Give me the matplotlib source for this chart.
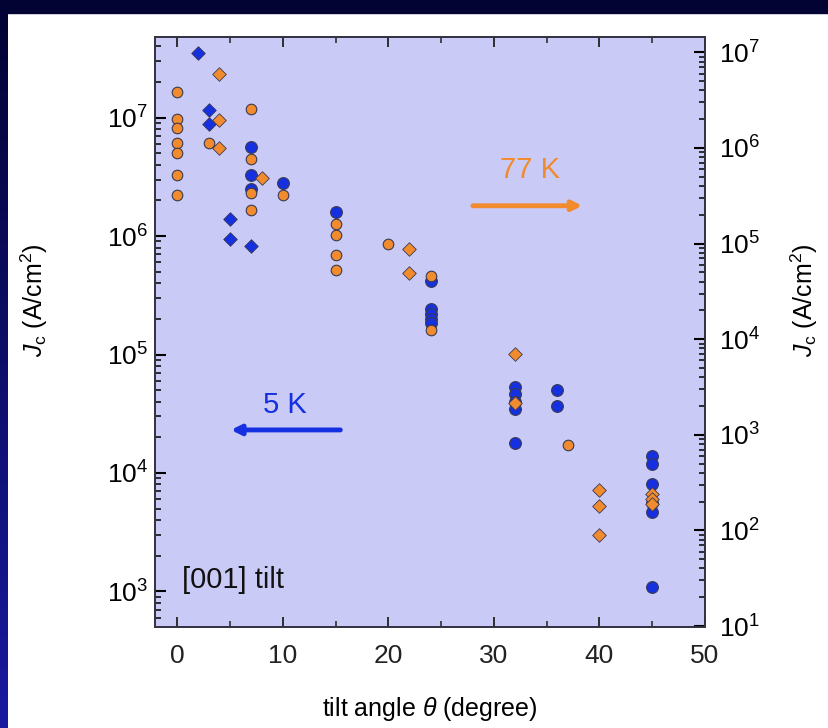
import matplotlib
matplotlib.use("Agg")
import matplotlib.pyplot as plt
import numpy as np
from matplotlib.patches import Rectangle
from matplotlib.ticker import LogLocator, NullFormatter, MultipleLocator

plt.rcParams['font.family'] = ['Liberation Sans', 'DejaVu Sans']
plt.rcParams['mathtext.fontset'] = 'custom'
plt.rcParams['mathtext.rm'] = 'Liberation Sans'
plt.rcParams['mathtext.it'] = 'Liberation Sans:italic'

# 5 K data (left axis)
blue_circ_x = [7, 7, 7, 10, 15, 24, 24, 24, 24, 24, 32, 32, 32, 32, 32, 36, 36, 45, 45, 45, 45, 45, 45]
blue_circ_y = [5.6e6, 3.3e6, 2.5e6, 2.8e6, 1.6e6, 4.2e5, 2.4e5, 2.2e5, 2.0e5, 1.85e5,
               5.3e4, 4.6e4, 4.0e4, 3.5e4, 1.8e4, 5.0e4, 3.7e4,
               1.4e4, 1.2e4, 8.0e3, 5.6e3, 4.7e3, 1.1e3]
blue_dia_x = [2, 3, 3, 5, 5, 7]
blue_dia_y = [3.5e7, 1.15e7, 8.9e6, 1.38e6, 9.4e5, 8.3e5]

# 77 K data (right axis)
orange_circ_x = [0, 0, 0, 0, 0, 0, 0, 3, 7, 7, 7, 7, 10, 15, 15, 15, 15, 20, 24, 24, 37]
orange_circ_y = [3.8e6, 2.0e6, 1.6e6, 1.13e6, 8.9e5, 5.2e5, 3.2e5, 1.12e6,
                 2.55e6, 7.6e5, 3.4e5, 2.26e5, 3.2e5,
                 1.62e5, 1.24e5, 7.5e4, 5.3e4, 9.9e4, 4.6e4, 1.25e4, 790]
orange_dia_x = [4, 4, 4, 8, 22, 22, 32, 32, 40, 40, 40, 45, 45, 45]
orange_dia_y = [6.0e6, 1.96e6, 9.9e5, 4.9e5, 8.8e4, 4.9e4, 7.0e3, 2.14e3, 263, 179, 89, 243, 215, 190]

blue = '#1530e0'
orange = '#f28a2e'
edge = '#3a3a50'

fig = plt.figure(figsize=(8.29, 7.28), dpi=100, facecolor='white')

# dark frame on top and left of the slide
fig.patches.append(Rectangle((0, 1 - 13 / 728), 1, 13 / 728, transform=fig.transFigure,
                             color='#020233', zorder=0))
rows = 728
strip = np.zeros((rows, 8, 3))
top_c = np.array([2, 2, 51]) / 255
bot_c = np.array([26, 26, 160]) / 255
t = np.linspace(0, 1, rows).reshape(-1, 1, 1)
strip[:] = top_c + (bot_c - top_c) * t
fig.figimage(strip, xo=0, yo=0, origin='upper', zorder=0)

ax = fig.add_axes([155 / 829, 101 / 728, 550 / 829, 590 / 728])
ax.set_facecolor('#cacaf6')
ax.set_yscale('log')
ax.set_xlim(-2.1, 50)
ax.set_ylim(10 ** 2.70, 10 ** 7.68)

ax.scatter(blue_circ_x, blue_circ_y, s=72, marker='o', color=blue, edgecolors=edge, linewidths=0.8, zorder=3)
ax.scatter(blue_dia_x, blue_dia_y, s=48, marker='D', color=blue, edgecolors=edge, linewidths=0.6, zorder=3)

ax2 = ax.twinx()
ax2.set_yscale('log')
ax2.set_ylim(10 ** 0.99, 10 ** 7.16)
ax2.scatter(orange_circ_x, orange_circ_y, s=58, marker='o', color=orange, edgecolors=edge, linewidths=0.8, zorder=3)
ax2.scatter(orange_dia_x, orange_dia_y, s=48, marker='D', color=orange, edgecolors=edge, linewidths=0.6, zorder=3)

for a in (ax, ax2):
    a.yaxis.set_major_locator(LogLocator(base=10, numticks=20))
    a.yaxis.set_minor_locator(LogLocator(base=10, subs=np.arange(2, 10), numticks=20))
    a.yaxis.set_minor_formatter(NullFormatter())
    for sp in a.spines.values():
        sp.set_linewidth(1.3)
        sp.set_color('#333344')

ax.xaxis.set_major_locator(MultipleLocator(10))
ax.xaxis.set_minor_locator(MultipleLocator(5))
ax.xaxis.offsetText.set_visible(False)
ax.tick_params(axis='x', which='both', direction='in', top=True, labelsize=19, pad=12, colors='#222222')
ax.tick_params(axis='x', which='major', length=7, width=1.3)
ax.tick_params(axis='x', which='minor', length=4, width=1.1)
ax.tick_params(axis='y', which='both', direction='in', right=False, labelsize=19, pad=5)
ax.tick_params(axis='y', which='major', length=8, width=1.5)
ax.tick_params(axis='y', which='minor', length=4, width=1.1)
ax2.tick_params(axis='y', which='both', direction='in', labelsize=19, pad=10)
ax2.tick_params(axis='y', which='major', length=8, width=1.5)
ax2.tick_params(axis='y', which='minor', length=4, width=1.1)

ax.set_xlabel(r'tilt angle $\theta$ (degree)', fontsize=18)
ax.xaxis.set_label_coords(0.5, -0.115)
ax.set_ylabel(r'$J_{\rm c}$ (A/cm$^2$)', fontsize=18)
ax.yaxis.set_label_coords(-0.19, 0.554)
ax2.set_ylabel(r'$J_{\rm c}$ (A/cm$^2$)', fontsize=18)
ax2.yaxis.set_label_coords(1.152, 0.554)

ax.text(0.236, 0.376, '5 K', transform=ax.transAxes, color=blue, fontsize=21, ha='center', va='center')
ax.annotate('', xy=(0.133, 0.334), xytext=(0.342, 0.334), xycoords='axes fraction',
            arrowprops=dict(arrowstyle='-|>', color=blue, lw=3.5, mutation_scale=14))
ax2.text(0.682, 0.775, '77 K', transform=ax2.transAxes, color=orange, fontsize=21, ha='center', va='center')
ax2.annotate('', xy=(0.782, 0.714), xytext=(0.573, 0.714), xycoords='axes fraction',
             arrowprops=dict(arrowstyle='-|>', color=orange, lw=3.5, mutation_scale=14))
ax.text(0.049, 0.08, '[001] tilt', transform=ax.transAxes, fontsize=21, ha='left', va='center', color='#111111')

fig.savefig('out.png', dpi=100)
